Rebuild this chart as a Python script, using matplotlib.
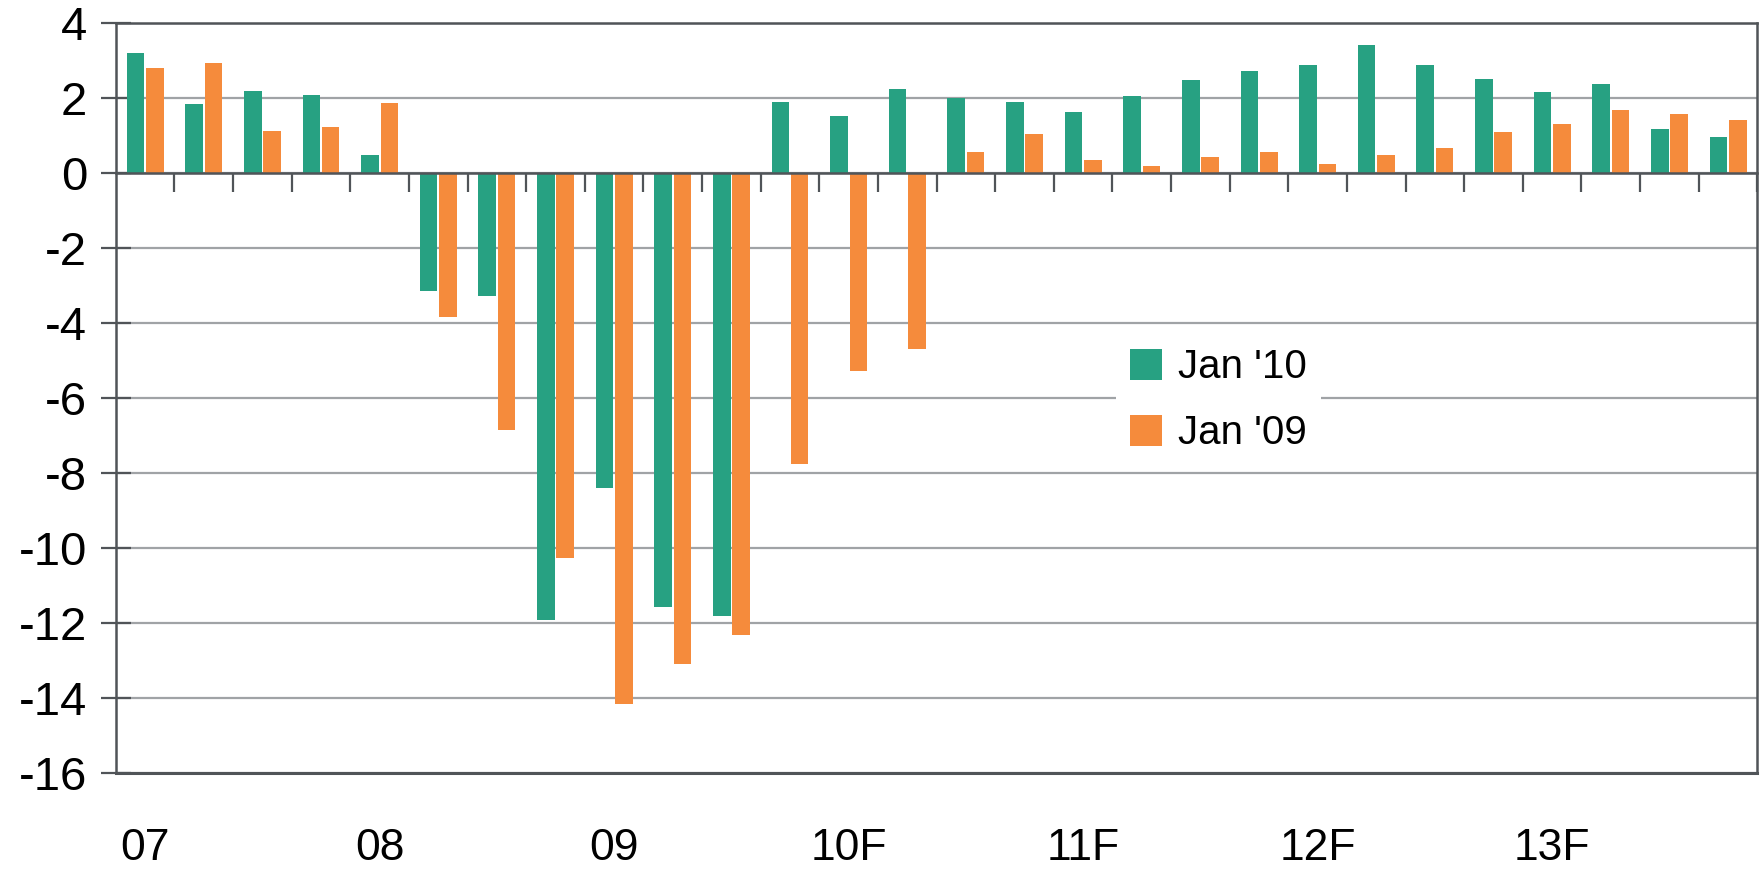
import matplotlib
matplotlib.use("Agg")
import matplotlib.pyplot as plt
import numpy as np

quarters = 28
year_labels = ["07", "08", "09", "10F", "11F", "12F", "13F"]
jan10 = [3.20, 1.83, 2.19, 2.07, 0.48, -3.14, -3.29, -11.92, -8.41, -11.56, -11.80,
         1.89, 1.50, 2.22, 1.98, 1.89, 1.62, 2.04, 2.46, 2.72, 2.87, 3.41, 2.87,
         2.51, 2.16, 2.37, 1.17, 0.96]
jan09 = [2.78, 2.93, 1.11, 1.23, 1.86, -3.83, -6.86, -10.27, -14.16, -13.08, -12.31,
         -7.75, -5.27, -4.70, 0.54, 1.02, 0.33, 0.18, 0.42, 0.54, 0.24, 0.48, 0.66,
         1.08, 1.29, 1.68, 1.56, 1.41]
series_names = ["Jan '10", "Jan '09"]

GREEN = "#27A182"
ORANGE = "#F58B3C"
DARK = "#505458"
GRID = "#A0A3A6"
FONT = ["Liberation Sans", "DejaVu Sans"]

plt.rcParams['font.family'] = FONT

fig = plt.figure(figsize=(17.63, 8.69), dpi=100)
ax = fig.add_axes([0.0657, 0.110, 0.9311, 0.864])

x = np.arange(quarters) + 0.5
w = 0.30
off = 0.165
ax.bar(x - off, jan10, width=w, color=GREEN, label=series_names[0], zorder=3)
ax.bar(x + off, jan09, width=w, color=ORANGE, label=series_names[1], zorder=3)

ax.set_xlim(0, quarters)
ax.set_ylim(-16, 4)
ax.set_yticks(np.arange(-16, 5, 2))
ax.set_yticklabels([str(v) for v in range(-16, 5, 2)], fontsize=34)
ax.yaxis.grid(True, color=GRID, lw=1.6, zorder=0)
ax.tick_params(axis='y', direction='inout', length=21, width=1.6, color=DARK, pad=10)

# bottom spine used as zero line with quarter ticks
ax.spines['bottom'].set_position(('data', 0))
ax.spines['bottom'].set_zorder(4)
ax.set_xticks(np.arange(1, quarters + 1))
ax.tick_params(axis='x', direction='out', length=14, width=1.6, color=DARK, labelbottom=False)
for s in ['bottom', 'left', 'top', 'right']:
    ax.spines[s].set_color(DARK)
    ax.spines[s].set_linewidth(1.8)
ax.axhline(-16, color=DARK, lw=2.2, zorder=4, clip_on=False)

for i, lab in enumerate(year_labels):
    ax.text(4 * i + 0.5, -0.10, lab, transform=ax.get_xaxis_transform(),
            ha='center', va='center', fontsize=32,
            family=["Liberation Sans Narrow", "Liberation Sans", "DejaVu Sans"])

leg = ax.legend(loc='upper left', bbox_to_anchor=(0.597, 0.612), fontsize=29,
                frameon=True, fancybox=False, edgecolor='none', facecolor='white',
                framealpha=1, handlelength=0.8, handleheight=0.8, handletextpad=0.4,
                labelspacing=0.7, borderpad=0.35)
leg.set_zorder(5)

fig.savefig("out.png", dpi=100, facecolor='white')
